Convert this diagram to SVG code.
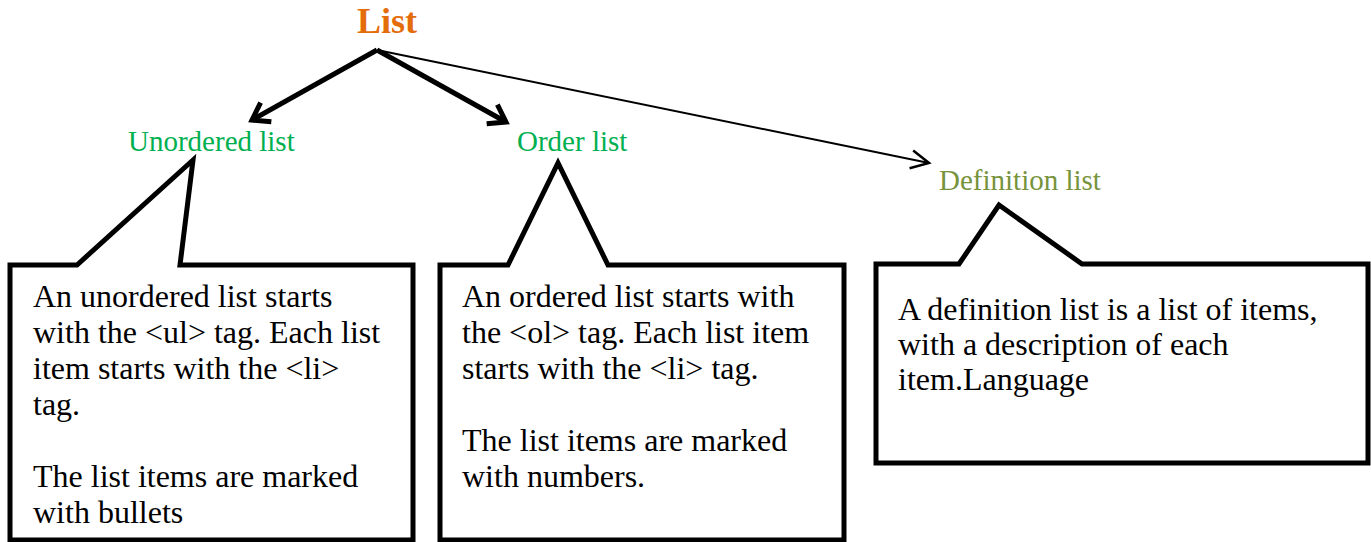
<svg xmlns="http://www.w3.org/2000/svg" width="1371" height="542" viewBox="0 0 1371 542">
<style>
.t{font-family:"Liberation Serif","Times New Roman",serif;}
.body{font-size:32px;fill:#000;}
.label{font-size:29px;}
.callout{fill:#fff;stroke:#000;stroke-width:5;stroke-linejoin:miter;}
.thick{stroke:#000;stroke-width:5;fill:none;}
.thin{stroke:#000;stroke-width:2;fill:none;}
</style>
<defs>
<marker id="chevThick" markerUnits="userSpaceOnUse" markerWidth="30" markerHeight="30" viewBox="0 0 30 30" refX="24" refY="15" orient="auto">
<path d="M8,4 L24,15 L8,26" fill="none" stroke="#000" stroke-width="5"/>
</marker>
<marker id="chevThin" markerUnits="userSpaceOnUse" markerWidth="30" markerHeight="30" viewBox="0 0 30 30" refX="26" refY="15" orient="auto">
<path d="M8,6 L26,15 L8,24" fill="none" stroke="#000" stroke-width="2.5"/>
</marker>
</defs>
<rect width="1371" height="542" fill="#fff"/>
<g id="list">
<text class="t" x="387" y="33" text-anchor="middle" font-size="36" font-weight="bold" fill="#E46C0A">List</text>
</g>
<g id="connectors">
<line class="thick" x1="377" y1="50" x2="252" y2="120" marker-end="url(#chevThick)"/>
<line class="thick" x1="377" y1="50" x2="506" y2="122" marker-end="url(#chevThick)"/>
<line class="thin" x1="377" y1="50" x2="929" y2="163" marker-end="url(#chevThin)"/>
</g>
<g id="unordered">
<text class="t label" x="128" y="151" fill="#00B050">Unordered list</text>
<path class="callout" d="M10,265 L77,265 L193,160 L180,265 L413,265 L413,540 L10,540 Z"/>
<text class="t body" x="33" y="307">An unordered list starts</text>
<text class="t body" x="33" y="343">with the &lt;ul&gt; tag. Each list</text>
<text class="t body" x="33" y="379">item starts with the &lt;li&gt;</text>
<text class="t body" x="33" y="415">tag.</text>
<text class="t body" x="33" y="487">The list items are marked</text>
<text class="t body" x="33" y="523">with bullets</text>
</g>
<g id="ordered">
<text class="t label" x="517" y="151" fill="#00B050">Order list</text>
<path class="callout" d="M440,265 L508,265 L558,163 L608,265 L844,265 L844,540 L440,540 Z"/>
<text class="t body" x="462" y="307">An ordered list starts with</text>
<text class="t body" x="462" y="343">the &lt;ol&gt; tag. Each list item</text>
<text class="t body" x="462" y="379">starts with the &lt;li&gt; tag.</text>
<text class="t body" x="462" y="451">The list items are marked</text>
<text class="t body" x="462" y="487">with numbers.</text>
</g>
<g id="definition">
<text class="t label" x="939" y="190" fill="#77933C">Definition list</text>
<path class="callout" d="M876,264 L959,264 L999,205 L1082,264 L1368,264 L1368,463 L876,463 Z"/>
<text class="t body" x="898" y="320">A definition list is a list of items,</text>
<text class="t body" x="898" y="355">with a description of each</text>
<text class="t body" x="898" y="390">item.Language</text>
</g>
</svg>
